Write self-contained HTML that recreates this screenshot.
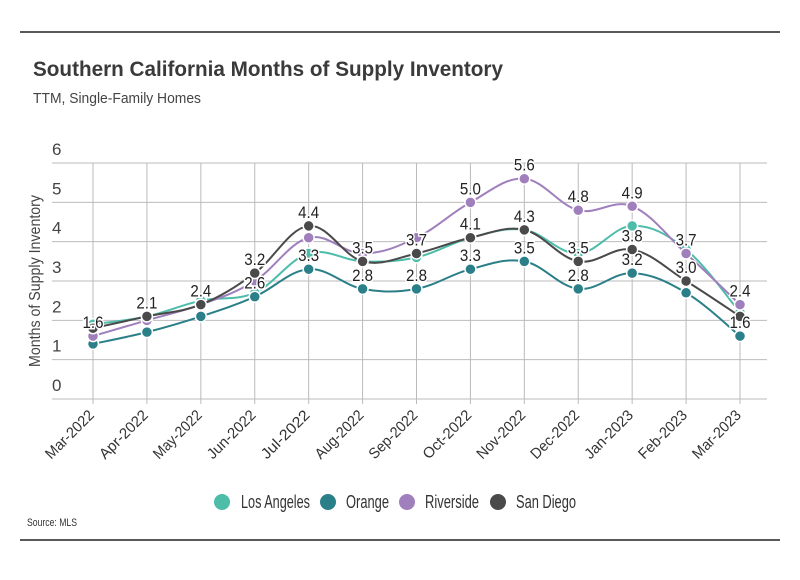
<!DOCTYPE html>
<html><head><meta charset="utf-8"><style>
html,body{margin:0;padding:0;background:#fff;}
body{width:800px;height:575px;overflow:hidden;font-family:"Liberation Sans Narrow","Liberation Sans",sans-serif;}
</style></head><body>
<svg id="c" width="800" height="575" viewBox="0 0 800 575" xmlns="http://www.w3.org/2000/svg">
<line x1="20" y1="32" x2="780" y2="32" stroke="#222" stroke-width="1.5"/>
<line x1="20" y1="540" x2="780" y2="540" stroke="#222" stroke-width="1.5"/>
<text x="33" y="76" font-family="Liberation Sans, sans-serif" font-weight="bold" font-size="21" fill="#3a3a3a" textLength="470" lengthAdjust="spacingAndGlyphs">Southern California Months of Supply Inventory</text>
<text x="33" y="103" font-size="15" fill="#444" textLength="168" lengthAdjust="spacingAndGlyphs">TTM, Single-Family Homes</text>
<text x="40" y="281" font-size="16" fill="#444" transform="rotate(-90 40 281)" text-anchor="middle" textLength="172" lengthAdjust="spacingAndGlyphs">Months of Supply Inventory</text>
<g id="grid"></g><g id="series"></g><g id="labels"></g><g id="xlabels"></g>
<g font-size="18" fill="#333">
<circle cx="222" cy="502" r="8" fill="#4dbdaa"/>
<text x="241" y="508" textLength="69" lengthAdjust="spacingAndGlyphs">Los Angeles</text>
<circle cx="328" cy="502" r="8" fill="#2a7f88"/>
<text x="346" y="508" textLength="43" lengthAdjust="spacingAndGlyphs">Orange</text>
<circle cx="407" cy="502" r="8" fill="#a07fbd"/>
<text x="425" y="508" textLength="54" lengthAdjust="spacingAndGlyphs">Riverside</text>
<circle cx="498" cy="502" r="8" fill="#4a4a4a"/>
<text x="516" y="508" textLength="60" lengthAdjust="spacingAndGlyphs">San Diego</text>
</g>
<text x="27" y="526" font-size="11" fill="#333" textLength="50" lengthAdjust="spacingAndGlyphs">Source:  MLS</text>
</svg>
<script>
const categories=["Mar-2022","Apr-2022","May-2022","Jun-2022","Jul-2022","Aug-2022","Sep-2022","Oct-2022","Nov-2022","Dec-2022","Jan-2023","Feb-2023","Mar-2023"];
const yTicks=[0,1,2,3,4,5,6];
const losAngeles=[1.9,2.1,2.5,2.7,3.7,3.5,3.6,4.1,4.3,3.7,4.4,3.8,2.2];
const orange=[1.4,1.7,2.1,2.6,3.3,2.8,2.8,3.3,3.5,2.8,3.2,2.7,1.6];
const riverside=[1.6,2.0,2.4,3.0,4.1,3.7,4.1,5.0,5.6,4.8,4.9,3.7,2.4];
const sanDiego=[1.8,2.1,2.4,3.2,4.4,3.5,3.7,4.1,4.3,3.5,3.8,3.0,2.1];
const riversideLabeled=[0,7,8,9,10,11,12];
const sanDiegoLabeled=[1,2,3,4,5,6,7,8,9,10,11];
const orangeLabeled=[3,4,5,6,7,8,9,10,12];

const NS="http://www.w3.org/2000/svg";
const X0=93,X1=740,Y0=399,Y1=163;
const xS=i=>X0+(X1-X0)*i/(categories.length-1);
const yS=v=>Y0-(Y0-Y1)*v/6;
function mk(tag,attrs,parent){const e=document.createElementNS(NS,tag);for(const k in attrs)e.setAttribute(k,attrs[k]);parent.appendChild(e);return e;}
const grid=document.getElementById('grid');
yTicks.forEach(t=>{
  const l=mk('line',{x1:52,x2:767,y1:yS(t),y2:yS(t),stroke:'#bbb','stroke-width':1},grid);
  
  
  const tx=mk('text',{x:52,y:yS(t)-8,'font-size':17,fill:'#444'},grid);
  tx.textContent=t;
  
  
});
categories.forEach((c,i)=>{
  const l=mk('line',{x1:xS(i),x2:xS(i),y1:Y1,y2:Y0+5,stroke:'#bbb','stroke-width':1},grid);
  
  
  const x=xS(i)+2,y=Y0+17;
  const tx=mk('text',{x:x,y:y,'font-size':15,fill:'#333','text-anchor':'end',textLength:62,lengthAdjust:'spacingAndGlyphs',transform:`rotate(-45 ${x} ${y})`},document.getElementById('xlabels'));
  tx.textContent=c;
  
  
});
function pathFor(vals){
  const p=vals.map((v,i)=>[xS(i),yS(v)]);
  let d=`M${p[0][0]},${p[0][1]}`;
  for(let i=0;i<p.length-1;i++){
    const p0=p[i-1]||p[i],p1=p[i],p2=p[i+1],p3=p[i+2]||p2;
    const t=0.18;
    const c1=[p1[0]+(p2[0]-p0[0])*t,p1[1]+(p2[1]-p0[1])*t];
    const c2=[p2[0]-(p3[0]-p1[0])*t,p2[1]-(p3[1]-p1[1])*t];
    d+=` C${c1[0]},${c1[1]} ${c2[0]},${c2[1]} ${p2[0]},${p2[1]}`;
  }
  return d;
}
const series=[["los-angeles",losAngeles,"#4dbdaa"],["orange",orange,"#2a7f88"],["riverside",riverside,"#a07fbd"],["san-diego",sanDiego,"#4a4a4a"]];
const sg=document.getElementById('series');
series.forEach(([name,vals,col])=>{
  const g=mk('g',{},sg);
  
  
  const pa=mk('path',{d:pathFor(vals),fill:'none',stroke:col,'stroke-width':2},g);
  
  
  vals.forEach((v,i)=>{
    const c=mk('circle',{cx:xS(i),cy:yS(v),r:5.5,fill:col,stroke:'#fff','stroke-width':1.5},g);
    
    
  });
});
const lg=document.getElementById('labels');
function addLabels(vals,idx){
  idx.forEach(i=>{
    const t=mk('text',{x:xS(i),y:yS(vals[i])-8,'font-size':17,fill:'#222','text-anchor':'middle',textLength:21,lengthAdjust:'spacingAndGlyphs',stroke:'#fff','stroke-width':3,'paint-order':'stroke'},lg);
    t.textContent=vals[i].toFixed(1);
    
    
  });
}
addLabels(riverside,riversideLabeled);
addLabels(sanDiego,sanDiegoLabeled);
addLabels(orange,orangeLabeled);
</script>
</body></html>
